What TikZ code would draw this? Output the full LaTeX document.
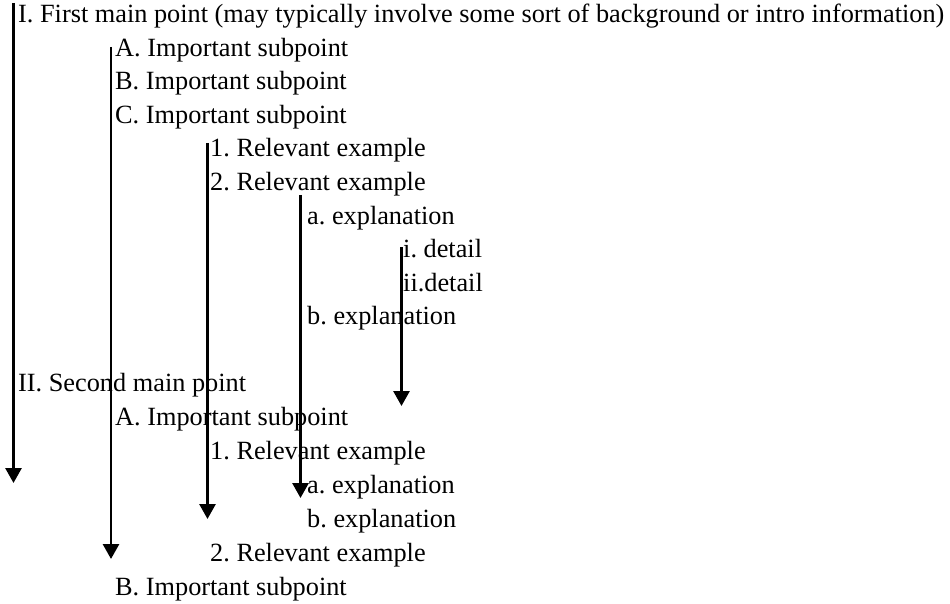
\documentclass[tikz,border=0pt]{standalone}
\usepackage{fontspec}
\setmainfont{Liberation Serif}
\usetikzlibrary{arrows.meta}
\frenchspacing
\tikzset{
  item/.style={anchor=base west, inner sep=0pt, font=\fontsize{26.3}{30}\selectfont\frenchspacing},
  flow/.style={line width=2.8pt, -{Triangle[width=16pt,length=15pt]}}
}
\begin{document}
\begin{tikzpicture}[x=1pt,y=-1pt]
\useasboundingbox[fill=white] (0,0) rectangle (950,604);
% first section
\node[item] (t1)  at (18,23)    {I. First main point (may typically involve some sort of background or intro information)};
\node[item] (t2)  at (115,56.5) {A. Important subpoint};
\node[item] (t3)  at (115,90)   {B. Important subpoint};
\node[item] (t4)  at (115,123.5){C. Important subpoint};
\node[item] (t5)  at (210,157)  {1. Relevant example};
\node[item] (t6)  at (210,190.5){2. Relevant example};
\node[item] (t7)  at (307,224)  {a. explanation};
\node[item] (t8)  at (403,257.5){i. detail};
\node[item] (t9)  at (403,291)  {ii.detail};
\node[item] (t10) at (307,324.5){b. explanation};
% second section
\node[item] (t11) at (18,391)   {II. Second main point};
\node[item] (t12) at (115,425)  {A. Important subpoint};
\node[item] (t13) at (210,459)  {1. Relevant example};
\node[item] (t14) at (307,493)  {a. explanation};
\node[item] (t15) at (307,527)  {b. explanation};
\node[item] (t16) at (210,561)  {2. Relevant example};
\node[item] (t17) at (115,595)  {B. Important subpoint};
% arrows
\coordinate (s1) at (13.5,3);   \coordinate (e1) at (13.5,483);
\coordinate (s2) at (111,47);   \coordinate (e2) at (111,559);
\coordinate (s3) at (207.5,143);\coordinate (e3) at (207.5,519);
\coordinate (s4) at (300.5,195);\coordinate (e4) at (300.5,498);
\coordinate (s5) at (401.5,247);\coordinate (e5) at (401.5,406);
\draw[flow] (s1) -- (e1);
\draw[flow] (s2) -- (e2);
\draw[flow] (s3) -- (e3);
\draw[flow] (s4) -- (e4);
\draw[flow] (s5) -- (e5);
\end{tikzpicture}
\end{document}
